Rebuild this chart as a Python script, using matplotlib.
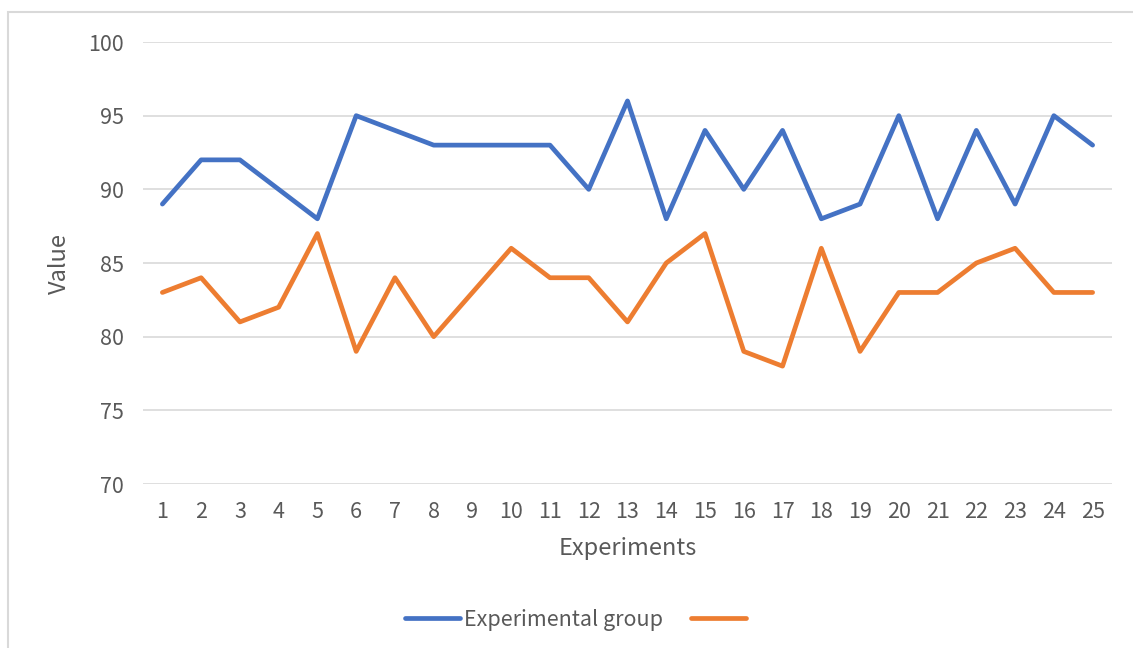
import matplotlib.pyplot as plt
from matplotlib.patches import Rectangle

plt.rcParams['font.family'] = ['Noto Sans CJK SC', 'DejaVu Sans']

experiments = list(range(1, 26))
experimental = [89, 92, 92, 90, 88, 95, 94, 93, 93, 93, 93, 90, 96, 88, 94, 90, 94, 88, 89, 95, 88, 94, 89, 95, 93]
control = [83, 84, 81, 82, 87, 79, 84, 80, 83, 86, 84, 84, 81, 85, 87, 79, 78, 86, 79, 83, 83, 85, 86, 83, 83]
yticks = [70, 75, 80, 85, 90, 95, 100]

fig = plt.figure(figsize=(11.33, 6.48), dpi=100)
ax = fig.add_axes([143 / 1133, 1 - 484 / 648, 969 / 1133, 442 / 648])

# chart border like the spreadsheet frame
fig.patches.append(Rectangle((8 / 1133, -0.1), 1.2, 1.1 - 12 / 648, transform=fig.transFigure,
                             fill=False, edgecolor='#D9D9D9', linewidth=1.5))

l1, = ax.plot(experiments, experimental, color='#4472C4', lw=3.4, solid_joinstyle='round', solid_capstyle='round')
l2, = ax.plot(experiments, control, color='#ED7D31', lw=3.4, solid_joinstyle='round', solid_capstyle='round')

ax.set_xlim(0.5, 25.5)
ax.set_ylim(70, 100)
ax.set_yticks(yticks)
ax.set_xticks(experiments)
ax.grid(axis='y', color='#D9D9D9', lw=1.2)
ax.set_axisbelow(True)
for s in ax.spines.values():
    s.set_visible(False)
ax.tick_params(length=0, labelsize=15.5, labelcolor='#595959')
ax.tick_params(axis='y', pad=14)
ax.tick_params(axis='x', pad=12)

ax.set_ylabel('Value', fontsize=17, color='#595959', labelpad=12)
ax.set_xlabel('Experiments', fontsize=17, color='#595959', labelpad=10)

leg = fig.legend([l1, l2], ['Experimental group', ''], loc='center', bbox_to_anchor=(0.51, 1 - 620 / 648),
                 ncol=2, frameon=False, fontsize=15.5, handlelength=2.55, columnspacing=1.3, handletextpad=0.2)
for t in leg.get_texts():
    t.set_color('#595959')

fig.savefig('out.png', dpi=100)
